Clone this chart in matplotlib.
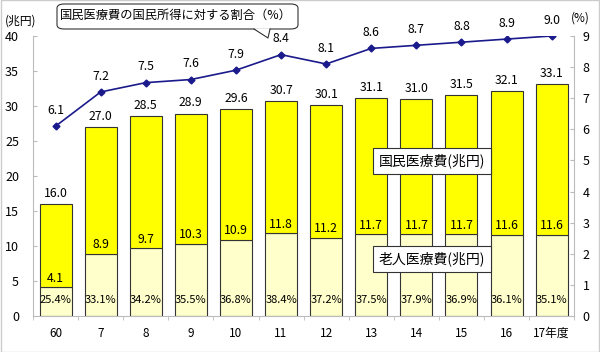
import matplotlib
matplotlib.use("Agg")
import matplotlib.pyplot as plt
from matplotlib.patches import FancyBboxPatch, Polygon
from matplotlib.lines import Line2D
import numpy as np

plt.rcParams['font.family'] = ['Noto Sans CJK JP', 'DejaVu Sans']

years = ["60", "7", "8", "9", "10", "11", "12", "13", "14", "15", "16", "17年度"]
total = [16.0, 27.0, 28.5, 28.9, 29.6, 30.7, 30.1, 31.1, 31.0, 31.5, 32.1, 33.1]
elderly = [4.1, 8.9, 9.7, 10.3, 10.9, 11.8, 11.2, 11.7, 11.7, 11.7, 11.6, 11.6]
elderly_share = ["25.4%", "33.1%", "34.2%", "35.5%", "36.8%", "38.4%",
                 "37.2%", "37.5%", "37.9%", "36.9%", "36.1%", "35.1%"]
ratio = [6.1, 7.2, 7.5, 7.6, 7.9, 8.4, 8.1, 8.6, 8.7, 8.8, 8.9, 9.0]

W, H = 600, 352
fig = plt.figure(figsize=(6.0, 3.52), dpi=100)
ax = fig.add_axes([0.055, 0.1023, 0.902, 0.7955])
x = np.arange(len(years))
w = 0.71
rest = [t - e for t, e in zip(total, elderly)]

ax.bar(x, elderly, w, color='#FFFFCC', edgecolor='#333333', linewidth=0.8, zorder=2)
ax.bar(x, rest, w, bottom=elderly, color='#FFFF00', edgecolor='#333333', linewidth=0.8, zorder=2)

fs = 8.8
for i in range(len(x)):
    ax.text(x[i], total[i] + 0.6, f"{total[i]:.1f}", ha='center', va='bottom', fontsize=fs, zorder=5)
    ax.text(x[i], elderly[i] + 0.35, f"{elderly[i]:.1f}", ha='center', va='bottom', fontsize=fs, zorder=5)
    ax.text(x[i], 2.3, elderly_share[i], ha='center', va='center', fontsize=8, zorder=5)

ax.set_xlim(-0.5, len(years) - 0.5)
ax.set_ylim(0, 40)
ax.set_yticks(np.arange(0, 41, 5))
ax.set_xticks(x)
ax.set_xticklabels(years, fontsize=8.5)
ax.set_xticks(np.arange(-0.5, len(years), 1), minor=True)
ax.tick_params(axis='x', which='major', length=0, pad=8)
ax.tick_params(axis='x', which='minor', length=3, color='#BBBBBB', direction='out')
ax.tick_params(axis='y', labelsize=9, length=3, color='#BBBBBB', direction='in', pad=10)
for s in ['top', 'right']:
    ax.spines[s].set_visible(False)
ax.spines['left'].set_color('#BBBBBB')
ax.spines['bottom'].set_color('#BBBBBB')

ax2 = ax.twinx()
ax2.set_ylim(0, 9)
ax2.set_yticks(np.arange(0, 10, 1))
ax2.plot(x, ratio, color='#1A1A8C', linewidth=1.2, marker='D', markersize=3.5, zorder=6)
for i in range(len(x)):
    ax2.text(x[i], ratio[i] + 0.3, f"{ratio[i]:.1f}", ha='center', va='bottom', fontsize=fs)
ax2.tick_params(axis='y', labelsize=9, length=3, color='#BBBBBB', direction='in', pad=6)
for s in ['top', 'left', 'bottom']:
    ax2.spines[s].set_visible(False)
ax2.spines['right'].set_color('#BBBBBB')

fig.text(0.035, 0.94, "(兆円)", fontsize=8.5, ha='center', va='center')
fig.text(0.968, 0.948, "(%)", fontsize=8.5, ha='center', va='center')

# series labels
ax.text(8.35, 22.2, "国民医療費(兆円)", fontsize=10, ha='center', va='center', zorder=7,
        bbox=dict(boxstyle='square,pad=0.4', facecolor='white', edgecolor='#333333', linewidth=0.8))
ax.text(8.35, 8.2, "老人医療費(兆円)", fontsize=10, ha='center', va='center', zorder=7,
        bbox=dict(boxstyle='square,pad=0.4', facecolor='white', edgecolor='#333333', linewidth=0.8))

# callout (drawn in figure pixel fractions)
def fx(px):
    return px / W
def fy(py):
    return 1 - py / H

box = FancyBboxPatch((fx(57), fy(29)), fx(298) - fx(57), fy(4) - fy(29),
                     boxstyle='round,pad=0,rounding_size=0.012', transform=fig.transFigure,
                     facecolor='white', edgecolor='#333333', linewidth=0.8, zorder=8)
fig.patches.append(box)
tail = Polygon([(fx(254), fy(28.2)), (fx(270), fy(28.2)), (fx(268), fy(38))], closed=True,
               transform=fig.transFigure, facecolor='white', edgecolor='none', zorder=9)
fig.patches.append(tail)
fig.lines.append(Line2D([fx(254), fx(268), fx(270)], [fy(29), fy(38), fy(29)],
                        transform=fig.transFigure, color='#333333', linewidth=0.8, zorder=10))
fig.text(fx(176), fy(15.5), "国民医療費の国民所得に対する割合（%）", fontsize=8.8,
         ha='center', va='center', zorder=11)

fig.patches.append(plt.Rectangle((0.001, 0.001), 0.998, 0.998, transform=fig.transFigure,
                                 fill=False, edgecolor='#CCCCCC', linewidth=1.0))

fig.savefig("out.png", dpi=100)
